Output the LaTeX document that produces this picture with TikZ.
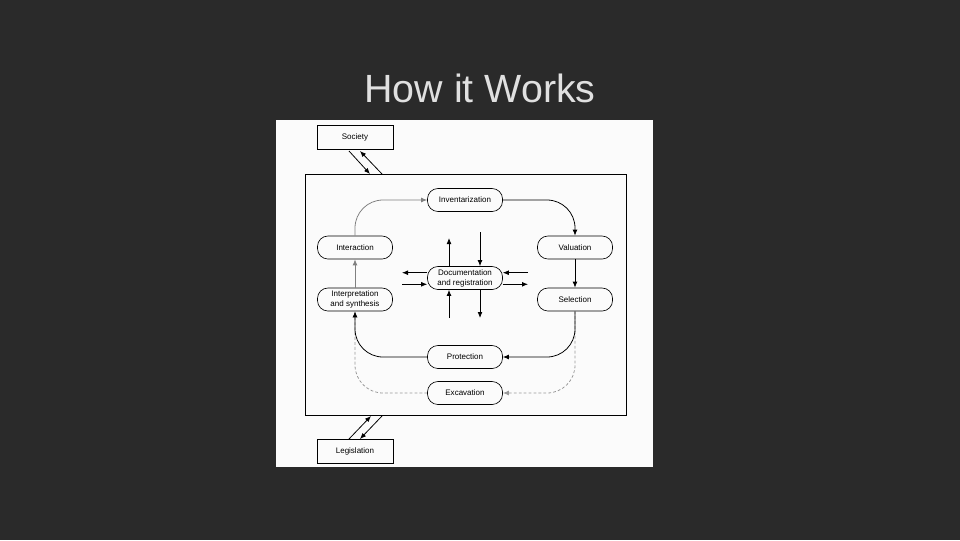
\documentclass[tikz,border=0pt]{standalone}
\usepackage{fontspec}
\setmainfont{Liberation Sans}
\usepackage{xcolor}
\usepackage{tikz}
\usetikzlibrary{arrows.meta,calc}
\definecolor{slate}{RGB}{42,42,42}
\definecolor{titlegray}{RGB}{224,224,224}
\definecolor{paper}{RGB}{251,251,251}

\begin{document}
\begin{tikzpicture}[x=0.025cm,y=-0.025cm, every node/.style={font=\fontsize{5.7}{7.2}\selectfont},
  stage/.style={draw,rounded corners=2.6mm,minimum width=1.875cm,minimum height=0.575cm,inner sep=1pt,align=center,line width=0.45pt},
  outer/.style={draw,minimum width=1.9cm,minimum height=0.6cm,line width=0.45pt},
  flow/.style={-{Latex[length=1.5mm,width=1.2mm]},line width=0.55pt},
  soft/.style={flow,draw=black!50},
  faint/.style={flow,draw=black!40,dash pattern=on 2pt off 1.5pt}]
\fill[slate] (0,0) rectangle (960,540);
\useasboundingbox (0,0) rectangle (960,540);
\node[font=\fontsize{28}{30}\selectfont,text=titlegray] (title) at (480,88) {How it Works};
\fill[paper] (276,120) rectangle (653,467);

\node[draw,line width=0.6pt,minimum width=8.025cm,minimum height=6.025cm] (frame) at (465.5,294.5) {};
\node[outer] (soc) at (355,137.5) {Society};
\node[outer] (leg) at (355,451) {Legislation};

\node[stage] (inv) at (465,200) {Inventarization};
\node[stage] (int) at (355,247.5) {Interaction};
\node[stage] (val) at (575,247.5) {Valuation};
\node[stage] (doc) at (465,278) {Documentation\\and registration};
\node[stage] (its) at (355,299.5) {Interpretation\\and synthesis};
\node[stage] (sel) at (575,299.5) {Selection};
\node[stage] (pro) at (465,357) {Protection};
\node[stage] (exc) at (465,393) {Excavation};

\coordinate (s1) at (349,151);
\coordinate (s2) at (370,174);
\coordinate (s3) at (382,174);
\coordinate (s4) at (360,151);
\coordinate (l1) at (349,439);
\coordinate (l2) at (371,416);
\coordinate (l3) at (382,416);
\coordinate (l4) at (360,439);
\draw[flow] (s1) -- (s2);
\draw[flow] (s3) -- (s4);
\draw[flow] (l1) -- (l2);
\draw[flow] (l3) -- (l4);

\draw[soft,rounded corners=0.7cm] (int.north) |- (inv.west);
\draw[flow,rounded corners=0.7cm] (inv.east) -| (val.north);
\draw[flow] (val) -- (sel);
\draw[faint,rounded corners=0.7cm] (sel.south) |- (exc.east);
\draw[flow,rounded corners=0.7cm] (sel.south) |- (pro.east);
\draw[faint,rounded corners=0.7cm] (exc.west) -| (its.south);
\draw[flow,rounded corners=0.7cm] (pro.west) -| (its.south);
\draw[soft] (its) -- (int);

\coordinate (upA) at (449,238);
\coordinate (dnA) at (480,232);
\coordinate (upB) at (449,318);
\coordinate (dnB) at (480,318);
\coordinate (lfA) at (402,272.7);
\coordinate (lfB) at (402,284.3);
\coordinate (rtA) at (528,272.7);
\coordinate (rtB) at (528,284.3);
\draw[flow] (upA |- doc.north) -- (upA);
\draw[flow] (dnA) -- (dnA |- doc.north);
\draw[flow] (upB) -- (upB |- doc.south);
\draw[flow] (dnB |- doc.south) -- (dnB);
\draw[flow] (lfA -| doc.west) -- (lfA);
\draw[flow] (lfB) -- (lfB -| doc.west);
\draw[flow] (rtA) -- (rtA -| doc.east);
\draw[flow] (rtB -| doc.east) -- (rtB);
\end{tikzpicture}
\end{document}
